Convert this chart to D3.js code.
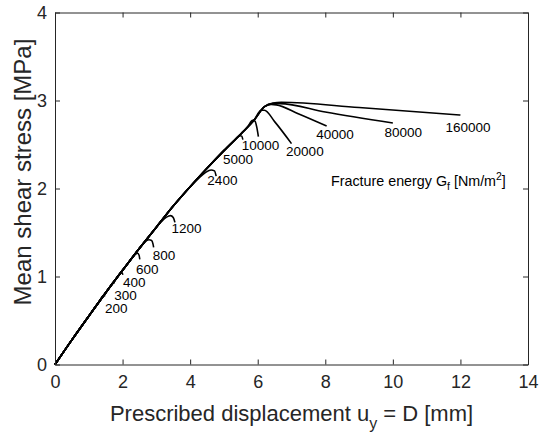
<!DOCTYPE html>
<html>
<head>
<meta charset="utf-8">
<script src="https://cdn.jsdelivr.net/npm/d3@7"></script>
<style>
  html, body { margin: 0; padding: 0; background: #fff; }
  svg { display: block; font-family: "Liberation Sans", Arial, Helvetica, sans-serif; }
</style>
</head>
<body>
<svg id="chart" width="542" height="437"></svg>
<script>
// Axis ticks
const xTicks = [0, 2, 4, 6, 8, 10, 12, 14];
const yTicks = [0, 1, 2, 3, 4];

// Common elastic branch shared by all fracture energies: displacement [mm], stress [MPa]
const envelopeD = [0, 0.5, 1.0, 1.5, 2.0, 2.5, 3.0, 3.5, 4.0, 4.5, 5.0, 5.5, 5.9, 6.2];
const envelopeS = [0, 0.28, 0.55, 0.815, 1.07, 1.32, 1.56, 1.80, 2.02, 2.23, 2.43, 2.62, 2.78, 2.93];

// Fracture energies G_f [Nm/m^2]
const fractureEnergies = ["200", "300", "400", "600", "800", "1200", "2400", "5000", "10000", "20000", "40000", "80000", "160000"];

// Last envelope displacement kept before each curve departs into its softening branch
const branchFrom = [1.0, 1.5, 1.5, 2.0, 2.5, 3.0, 4.0, 4.5, 5.5, 5.9, 6.2, 6.2, 6.2];

// Softening branches: displacement values
const softD = [
  [1.30, 1.45, 1.48],
  [1.65, 1.72, 1.75],
  [1.80, 1.93, 1.98, 2.01],
  [2.20, 2.35, 2.45, 2.49, 2.51],
  [2.65, 2.78, 2.86, 2.90, 2.92],
  [3.15, 3.30, 3.42, 3.50, 3.55],
  [4.25, 4.45, 4.62, 4.72, 4.77],
  [4.75, 5.05, 5.30, 5.47, 5.53, 5.56],
  [5.70, 5.85, 5.92, 5.97, 6.02],
  [6.10, 6.20, 6.50, 7.00],
  [6.40, 6.55, 7.20, 8.04],
  [6.45, 6.65, 8.00, 10.0],
  [6.45, 6.70, 9.00, 12.0]
];
// Softening branches: stress values
const softS = [
  [0.71, 0.79, 0.775],
  [0.895, 0.93, 0.915],
  [0.97, 1.035, 1.045, 1.02],
  [1.17, 1.245, 1.265, 1.24, 1.195],
  [1.39, 1.418, 1.41, 1.37, 1.33],
  [1.625, 1.675, 1.692, 1.67, 1.615],
  [2.115, 2.18, 2.21, 2.20, 2.14],
  [2.33, 2.45, 2.545, 2.60, 2.595, 2.555],
  [2.70, 2.775, 2.765, 2.70, 2.59],
  [2.89, 2.89, 2.76, 2.51],
  [2.955, 2.95, 2.85, 2.71],
  [2.965, 2.965, 2.87, 2.745],
  [2.97, 2.98, 2.92, 2.835]
];

// Curve label anchors (text start, baseline) in data units
const labelD = [1.48, 1.75, 2.01, 2.40, 2.89, 3.45, 4.51, 4.97, 5.53, 6.84, 7.73, 9.75, 11.56];
const labelS = [0.585, 0.733, 0.88, 1.03, 1.19, 1.494, 2.04, 2.28, 2.44, 2.375, 2.56, 2.585, 2.64];

// Annotation anchor
const noteD = 8.17, noteS = 2.034;

const svg = d3.select("#chart");
const margin = { left: 55, right: 14, top: 12.5, bottom: 72.5 };
const W = 542, H = 437;
const x = d3.scaleLinear().domain([0, 14]).range([margin.left, W - margin.right]);
const y = d3.scaleLinear().domain([0, 4]).range([H - margin.bottom, margin.top]);

const axisColor = "#262626";
const fmt = d3.format("d");

// Curves
const line = d3.line().x(p => x(p[0])).y(p => y(p[1])).curve(d3.curveMonotoneX);
const curves = fractureEnergies.map((g, i) => {
  const pts = [];
  envelopeD.forEach((d, k) => { if (d <= branchFrom[i]) pts.push([d, envelopeS[k]]); });
  softD[i].forEach((d, k) => pts.push([d, softS[i][k]]));
  return pts;
});

svg.append("g").selectAll("path").data(curves).join("path")
  .attr("d", line)
  .attr("fill", "none")
  .attr("stroke", "#000")
  .attr("stroke-width", 1.6)
  .attr("stroke-linejoin", "round");

// Axes (ticks pointing inward on all four sides)
const gx = svg.append("g").attr("transform", `translate(0,${y(0)})`)
  .call(d3.axisBottom(x).tickValues(xTicks).tickFormat(fmt).tickSizeInner(-5).tickSizeOuter(0).tickPadding(11));
const gy = svg.append("g").attr("transform", `translate(${x(0)},0)`)
  .call(d3.axisLeft(y).tickValues(yTicks).tickFormat(fmt).tickSizeInner(-5).tickSizeOuter(0).tickPadding(8));
const gt = svg.append("g").attr("transform", `translate(0,${y(4)})`)
  .call(d3.axisTop(x).tickValues(xTicks).tickSizeInner(-5).tickSizeOuter(0).tickFormat(""));
const gr = svg.append("g").attr("transform", `translate(${x(14)},0)`)
  .call(d3.axisRight(y).tickValues(yTicks).tickSizeInner(-5).tickSizeOuter(0).tickFormat(""));

[gx, gy, gt, gr].forEach(g => {
  g.selectAll("path, line").attr("stroke", axisColor).attr("stroke-width", 1);
  g.selectAll("text").attr("fill", axisColor).attr("font-size", 18)
    .attr("font-family", "'Liberation Sans', Arial, Helvetica, sans-serif");
});

// Curve labels
svg.append("g").selectAll("text").data(fractureEnergies).join("text")
  .attr("x", (d, i) => x(labelD[i]))
  .attr("y", (d, i) => y(labelS[i]))
  .attr("font-size", 13.5)
  .attr("fill", "#000")
  .text(d => d);

// Annotation: Fracture energy G_f [Nm/m^2]
const note = svg.append("text")
  .attr("x", x(noteD)).attr("y", y(noteS))
  .attr("font-size", 14.3).attr("fill", "#000");
note.append("tspan").text("Fracture energy G");
note.append("tspan").attr("font-size", 10.5).attr("dy", 4).text("f");
note.append("tspan").attr("dy", -4).text(" [Nm/m");
note.append("tspan").attr("font-size", 10.5).attr("dy", -6).text("2");
note.append("tspan").attr("dy", 6).text("]");

// Axis titles
const xt = svg.append("text")
  .attr("x", (x(0) + x(14)) / 2).attr("y", 420.5)
  .attr("text-anchor", "middle").attr("font-size", 22).attr("fill", axisColor);
xt.append("tspan").text("Prescribed displacement u");
xt.append("tspan").attr("font-size", 16).attr("dy", 8).text("y");
xt.append("tspan").attr("dy", -8).text(" = D [mm]");

svg.append("text")
  .attr("transform", "translate(31,172) rotate(-90)")
  .attr("text-anchor", "middle").attr("font-size", 24).attr("fill", axisColor)
  .text("Mean shear stress [MPa]");
</script>
</body>
</html>
